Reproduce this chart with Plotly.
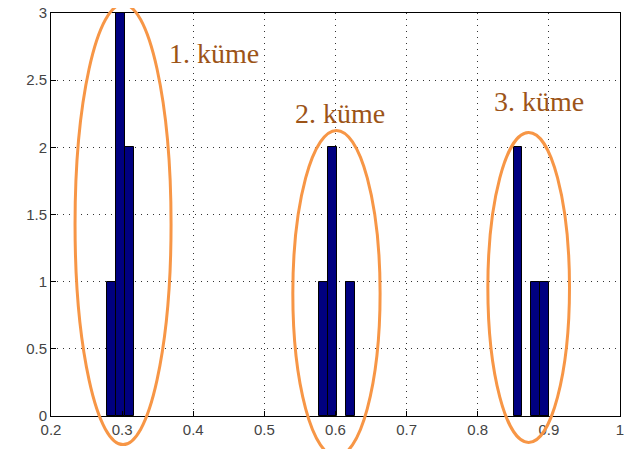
import plotly.graph_objects as go

# histogram data (bin centers, counts)
bin_width = 0.01242
bin_centers = [0.2852, 0.2976, 0.3100, 0.5833, 0.5957, 0.6205, 0.8565, 0.8814, 0.8938]
counts = [1, 3, 2, 1, 2, 1, 2, 1, 1]

x_ticks = [0.2, 0.3, 0.4, 0.5, 0.6, 0.7, 0.8, 0.9, 1.0]
x_tick_labels = ["0.2", "0.3", "0.4", "0.5", "0.6", "0.7", "0.8", "0.9", "1"]
y_ticks = [0, 0.5, 1, 1.5, 2, 2.5, 3]
y_tick_labels = ["0", "0.5", "1", "1.5", "2", "2.5", "3"]

cluster_labels = ["1. küme", "2. küme", "3. küme"]
label_x = [0.4286, 0.6058, 0.8857]
label_y = [2.70, 2.25, 2.34]

# ellipses (data units): x0, x1, y0, y1
ell_x0 = [0.2338, 0.5400, 0.8142]
ell_x1 = [0.3688, 0.6627, 0.9290]
ell_y0 = [-0.213, -0.30, -0.197]
ell_y1 = [3.065, 2.126, 2.111]

XMIN, XMAX, YMIN, YMAX = 0.2, 1.0, 0.0, 3.0

def px(v):
    return (v - XMIN) / (XMAX - XMIN)

def py(v):
    return (v - YMIN) / (YMAX - YMIN)

fig = go.Figure()
fig.add_trace(go.Bar(
    x=bin_centers, y=counts, width=[bin_width] * len(counts),
    marker=dict(color="#000080", line=dict(color="black", width=1)),
    showlegend=False,
))

shapes = []
for a, b, c, d in zip(ell_x0, ell_x1, ell_y0, ell_y1):
    shapes.append(dict(type="circle", xref="paper", yref="paper",
                       x0=px(a), x1=px(b), y0=py(c), y1=py(d),
                       line=dict(color="#F79646", width=3), layer="above"))

annotations = []
for t, x, y in zip(cluster_labels, label_x, label_y):
    annotations.append(dict(text=t, x=x, y=y, xref="x", yref="y", showarrow=False,
                            xanchor="center", yanchor="middle",
                            font=dict(family="Liberation Serif", size=28, color="#9C5418")))

fig.update_layout(
    width=634, height=449,
    margin=dict(l=43, r=22, t=5, b=41, autoexpand=False),
    plot_bgcolor="white", paper_bgcolor="white",
    shapes=shapes, annotations=annotations,
    bargap=0,
    font=dict(family="Liberation Sans", size=15, color="#444444"),
)
axis_common = dict(showline=True, linecolor="black", linewidth=1, mirror=True,
                   showgrid=True, gridcolor="#333333", griddash="1px,5px", gridwidth=1,
                   ticks="inside", ticklen=5, tickcolor="black", zeroline=False,
                   automargin=False, ticklabeloverflow="allow")
fig.update_xaxes(range=[XMIN, XMAX], tickvals=x_ticks, ticktext=x_tick_labels, **axis_common)
fig.update_yaxes(range=[YMIN, YMAX], tickvals=y_ticks, ticktext=y_tick_labels, **axis_common)

fig.write_html("out.html")
